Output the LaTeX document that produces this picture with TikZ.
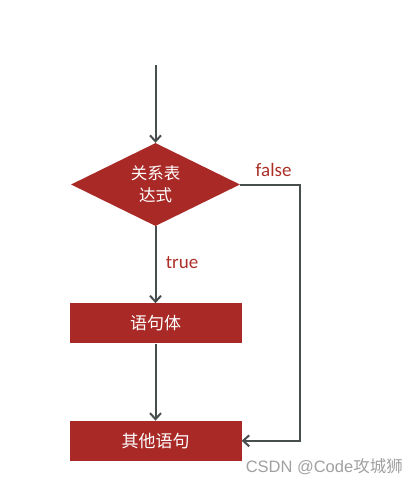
\documentclass[tikz,border=0pt]{standalone}
\usepackage{fontspec}
\setmainfont{Carlito}
\newfontfamily\cjk{Noto Sans CJK SC}
\newfontfamily\marksans{Liberation Sans}
\usepackage{xcolor}
\usetikzlibrary{positioning,shapes.geometric,arrows.meta}

\definecolor{boxred}{RGB}{168,41,38}
\definecolor{linegray}{RGB}{72,78,78}
\definecolor{lblred}{RGB}{172,48,40}
\definecolor{markgray}{RGB}{160,160,160}

\begin{document}
\begin{tikzpicture}[x=1pt, y=-1pt, node distance=77pt,
    block/.style={rectangle, fill=boxred, text=white, minimum width=172pt, minimum height=40pt, font=\cjk\fontsize{17}{20}\selectfont},
    decision/.style={diamond, fill=boxred, text=white, minimum width=169pt, minimum height=83pt, aspect=2, inner sep=1pt, align=center, font=\cjk\fontsize{16.5}{22}\selectfont},
    line/.style={draw=linegray, line width=2pt, -{Straight Barb[length=6pt, width=11pt, line width=2pt]}},
    lbl/.style={text=lblred, font=\fontsize{19}{22}\selectfont}]
    \useasboundingbox (0,0) rectangle (417,485);

    \node[decision] (cond) at (155.5,184.5) {关系表\\达式};
    \coordinate[above=78pt of cond.north] (start);
    \node[block, below=of cond.south, anchor=north] (body) {语句体};
    \node[block, below=of body] (other) {其他语句};

    \draw[line] (start) -- (cond.north);
    \draw[line] (cond.south) -- node[lbl, right=6pt, pos=0.47] (yes) {true} (body.north);
    \draw[line] (body) -- (other);
    \draw[line] (cond.east) -- ++(60,0) |- (other.east);
    \node[lbl, above right=4pt and 12pt of cond.east] (no) {false};

    \node[text=markgray, font=\fontsize{16.5}{20}\selectfont, anchor=east, inner sep=0pt] (mark) at (403,467) {\marksans CSDN @Code{\cjk 攻城狮}};
\end{tikzpicture}
\end{document}
